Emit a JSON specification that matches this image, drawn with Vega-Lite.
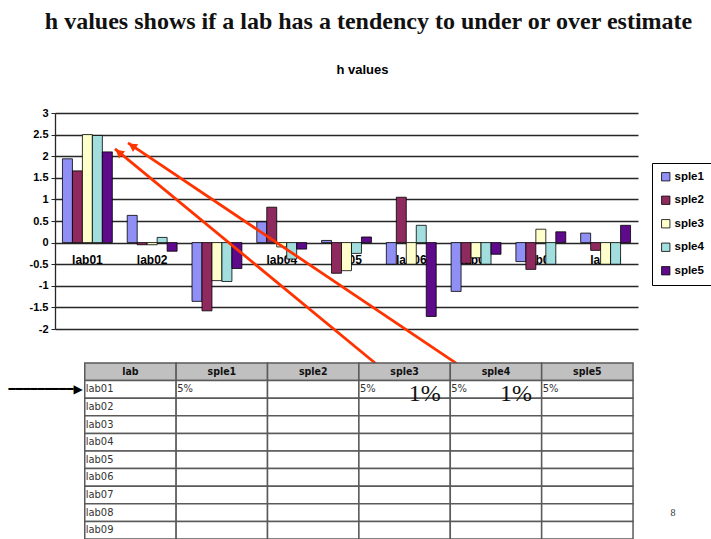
{
  "$schema": "https://vega.github.io/schema/vega-lite/v6.json",
  "background": "white",
  "padding": {"left": 8, "top": 10, "right": 0, "bottom": 0},
  "title": {"text": "h values shows if a lab has a tendency to under or over estimate", "font": "Liberation Serif", "fontSize": 24, "fontWeight": "bold", "color": "#111", "anchor": "middle", "dx": 8, "offset": 30},
  "bounds": "flush",
  "spacing": 34,
  "config": {"view": {"stroke": null}},
  "vconcat": [
    {
      "width": 583,
      "height": 216,
      "title": {"text": "h values", "font": "Liberation Sans", "fontSize": 13, "fontWeight": "bold", "color": "#000", "anchor": "middle", "dx": 16, "offset": 30},
      "resolve": {"scale": {"x": "independent"}},
      "layer": [
        {
          "data": {"values": [
            {"lab": "lab01", "sple": "sple1", "h": 1.94}, {"lab": "lab01", "sple": "sple2", "h": 1.66}, {"lab": "lab01", "sple": "sple3", "h": 2.5}, {"lab": "lab01", "sple": "sple4", "h": 2.48}, {"lab": "lab01", "sple": "sple5", "h": 2.1},
            {"lab": "lab02", "sple": "sple1", "h": 0.63}, {"lab": "lab02", "sple": "sple2", "h": -0.05}, {"lab": "lab02", "sple": "sple3", "h": -0.05}, {"lab": "lab02", "sple": "sple4", "h": 0.12}, {"lab": "lab02", "sple": "sple5", "h": -0.2},
            {"lab": "lab03", "sple": "sple1", "h": -1.36}, {"lab": "lab03", "sple": "sple2", "h": -1.58}, {"lab": "lab03", "sple": "sple3", "h": -0.88}, {"lab": "lab03", "sple": "sple4", "h": -0.9}, {"lab": "lab03", "sple": "sple5", "h": -0.6},
            {"lab": "lab04", "sple": "sple1", "h": 0.48}, {"lab": "lab04", "sple": "sple2", "h": 0.82}, {"lab": "lab04", "sple": "sple3", "h": -0.1}, {"lab": "lab04", "sple": "sple4", "h": -0.38}, {"lab": "lab04", "sple": "sple5", "h": -0.15},
            {"lab": "lab05", "sple": "sple1", "h": 0.05}, {"lab": "lab05", "sple": "sple2", "h": -0.71}, {"lab": "lab05", "sple": "sple3", "h": -0.65}, {"lab": "lab05", "sple": "sple4", "h": -0.25}, {"lab": "lab05", "sple": "sple5", "h": 0.13},
            {"lab": "lab06", "sple": "sple1", "h": -0.5}, {"lab": "lab06", "sple": "sple2", "h": 1.05}, {"lab": "lab06", "sple": "sple3", "h": -0.5}, {"lab": "lab06", "sple": "sple4", "h": 0.4}, {"lab": "lab06", "sple": "sple5", "h": -1.71},
            {"lab": "lab07", "sple": "sple1", "h": -1.13}, {"lab": "lab07", "sple": "sple2", "h": -0.48}, {"lab": "lab07", "sple": "sple3", "h": -0.35}, {"lab": "lab07", "sple": "sple4", "h": -0.5}, {"lab": "lab07", "sple": "sple5", "h": -0.27},
            {"lab": "lab08", "sple": "sple1", "h": -0.44}, {"lab": "lab08", "sple": "sple2", "h": -0.62}, {"lab": "lab08", "sple": "sple3", "h": 0.31}, {"lab": "lab08", "sple": "sple4", "h": -0.5}, {"lab": "lab08", "sple": "sple5", "h": 0.25},
            {"lab": "lab09", "sple": "sple1", "h": 0.22}, {"lab": "lab09", "sple": "sple2", "h": -0.18}, {"lab": "lab09", "sple": "sple3", "h": -0.5}, {"lab": "lab09", "sple": "sple4", "h": -0.5}, {"lab": "lab09", "sple": "sple5", "h": 0.4}
          ]},
          "mark": {"type": "bar", "stroke": "#000", "strokeWidth": 0.8},
          "encoding": {
            "x": {"field": "lab", "type": "nominal", "scale": {"paddingInner": 0.23, "paddingOuter": 0.115},
              "axis": {"title": null, "labelAngle": 0, "offset": -86.4, "ticks": false, "domain": false, "labelFont": "Liberation Sans", "labelFontWeight": "bold", "labelFontSize": 12, "labelColor": "#000", "labelPadding": 12}},
            "xOffset": {"field": "sple", "type": "nominal"},
            "y": {"field": "h", "type": "quantitative", "scale": {"domain": [-2, 3], "nice": false, "zero": false},
              "axis": {"title": null, "values": [-2, -1.5, -1, -0.5, 0, 0.5, 1, 1.5, 2, 2.5, 3], "labelExpr": "datum.value + ''", "labelOverlap": false, "grid": true, "gridColor": "#262626", "gridWidth": 1.3, "domainColor": "#262626", "domainWidth": 1.3, "tickColor": "#262626", "tickSize": 4, "labelFont": "Liberation Sans", "labelFontWeight": "bold", "labelFontSize": 11, "labelColor": "#000", "labelPadding": 3}},
            "color": {"field": "sple", "type": "nominal",
              "scale": {"domain": ["sple1", "sple2", "sple3", "sple4", "sple5"], "range": ["#8f8ff5", "#8e2a5e", "#ffffcc", "#a3dede", "#5e0a8a"]},
              "legend": {"orient": "none", "legendX": 597, "legendY": 50, "title": null, "strokeColor": "#000", "fillColor": "#fff", "padding": 8, "symbolType": "square", "symbolSize": 70, "symbolStrokeColor": "#000", "symbolStrokeWidth": 0.8, "labelFont": "Liberation Sans", "labelFontWeight": "bold", "labelFontSize": 11.5, "labelColor": "#000", "rowPadding": 10.5, "labelOffset": 3}}
          }
        },
        {
          "data": {"values": [
            {"x": 0.926, "y": 2.17, "x2": 5.015, "y2": -2.88},
            {"x": 1.127, "y": 2.31, "x2": 6.42, "y2": -3.02}
          ]},
          "mark": {"type": "rule", "color": "#ff3300", "strokeWidth": 2.8},
          "encoding": {
            "x": {"field": "x", "type": "quantitative", "scale": {"domain": [0, 9], "nice": false, "zero": false}, "axis": null},
            "y": {"field": "y", "type": "quantitative", "scale": {"domain": [-2, 3], "nice": false, "zero": false},
              "axis": {"title": null, "values": [-2, -1.5, -1, -0.5, 0, 0.5, 1, 1.5, 2, 2.5, 3], "labelExpr": "datum.value + ''", "labelOverlap": false, "grid": true, "gridColor": "#262626", "gridWidth": 1.3, "domainColor": "#262626", "domainWidth": 1.3, "tickColor": "#262626", "tickSize": 4, "labelFont": "Liberation Sans", "labelFontWeight": "bold", "labelFontSize": 11, "labelColor": "#000", "labelPadding": 3}},
            "x2": {"field": "x2"},
            "y2": {"field": "y2"}
          }
        },
        {
          "data": {"values": [{"x": 0.986, "y": 2.09}]},
          "mark": {"type": "point", "shape": "triangle-up", "filled": true, "color": "#ff3300", "size": 90, "angle": 309, "opacity": 1},
          "encoding": {
            "x": {"field": "x", "type": "quantitative", "scale": {"domain": [0, 9], "nice": false, "zero": false}, "axis": null},
            "y": {"field": "y", "type": "quantitative", "scale": {"domain": [-2, 3], "nice": false, "zero": false},
              "axis": {"title": null, "values": [-2, -1.5, -1, -0.5, 0, 0.5, 1, 1.5, 2, 2.5, 3], "labelExpr": "datum.value + ''", "labelOverlap": false, "grid": true, "gridColor": "#262626", "gridWidth": 1.3, "domainColor": "#262626", "domainWidth": 1.3, "tickColor": "#262626", "tickSize": 4, "labelFont": "Liberation Sans", "labelFontWeight": "bold", "labelFontSize": 11, "labelColor": "#000", "labelPadding": 3}}
          }
        },
        {
          "data": {"values": [{"x": 1.191, "y": 2.24}]},
          "mark": {"type": "point", "shape": "triangle-up", "filled": true, "color": "#ff3300", "size": 90, "angle": 304, "opacity": 1},
          "encoding": {
            "x": {"field": "x", "type": "quantitative", "scale": {"domain": [0, 9], "nice": false, "zero": false}, "axis": null},
            "y": {"field": "y", "type": "quantitative", "scale": {"domain": [-2, 3], "nice": false, "zero": false},
              "axis": {"title": null, "values": [-2, -1.5, -1, -0.5, 0, 0.5, 1, 1.5, 2, 2.5, 3], "labelExpr": "datum.value + ''", "labelOverlap": false, "grid": true, "gridColor": "#262626", "gridWidth": 1.3, "domainColor": "#262626", "domainWidth": 1.3, "tickColor": "#262626", "tickSize": 4, "labelFont": "Liberation Sans", "labelFontWeight": "bold", "labelFontSize": 11, "labelColor": "#000", "labelPadding": 3}}
          }
        }
      ]
    },
    {
      "width": 583,
      "height": 176,
      "data": {"values": [
        {"lab": "lab", "sple1": "sple1", "sple2": "sple2", "sple3": "sple3", "sple4": "sple4", "sple5": "sple5"},
        {"lab": "lab01", "sple1": "5%", "sple2": "", "sple3": "5%", "sple4": "5%", "sple5": "5%"},
        {"lab": "lab02", "sple1": "", "sple2": "", "sple3": "", "sple4": "", "sple5": ""},
        {"lab": "lab03", "sple1": "", "sple2": "", "sple3": "", "sple4": "", "sple5": ""},
        {"lab": "lab04", "sple1": "", "sple2": "", "sple3": "", "sple4": "", "sple5": ""},
        {"lab": "lab05", "sple1": "", "sple2": "", "sple3": "", "sple4": "", "sple5": ""},
        {"lab": "lab06", "sple1": "", "sple2": "", "sple3": "", "sple4": "", "sple5": ""},
        {"lab": "lab07", "sple1": "", "sple2": "", "sple3": "", "sple4": "", "sple5": ""},
        {"lab": "lab08", "sple1": "", "sple2": "", "sple3": "", "sple4": "", "sple5": ""},
        {"lab": "lab09", "sple1": "", "sple2": "", "sple3": "", "sple4": "", "sple5": ""}
      ]},
      "encoding": {
        "x": {"field": "col", "type": "nominal", "sort": ["lab", "sple1", "sple2", "sple3", "sple4", "sple5"], "scale": {"paddingInner": 0, "paddingOuter": 0.19, "align": 0.857}, "axis": null},
        "y": {"field": "lab", "type": "nominal", "sort": ["lab", "lab01", "lab02", "lab03", "lab04", "lab05", "lab06", "lab07", "lab08", "lab09"], "scale": {"paddingInner": 0, "paddingOuter": 0}, "axis": null}
      },
      "layer": [
        {
          "transform": [{"fold": ["lab", "sple1", "sple2", "sple3", "sple4", "sple5"], "as": ["col", "txt"]}],
          "mark": {"type": "rect", "stroke": "#5a5a5a", "strokeWidth": 1.5},
          "encoding": {"fill": {"condition": {"test": "datum.lab === 'lab'", "value": "#c0c0c0"}, "value": "#ffffff"}}
        },
        {
          "transform": [{"fold": ["lab", "sple1", "sple2", "sple3", "sple4", "sple5"], "as": ["col", "txt"]}, {"filter": "datum.lab === 'lab'"}],
          "mark": {"type": "text", "font": "Liberation Sans Narrow, DejaVu Sans Condensed, Liberation Sans, sans-serif", "fontWeight": "bold", "fontSize": 10.5, "color": "#111"},
          "encoding": {"text": {"field": "txt"}}
        },
        {
          "transform": [{"fold": ["lab", "sple1", "sple2", "sple3", "sple4", "sple5"], "as": ["col", "txt"]}, {"filter": "datum.lab !== 'lab'"}],
          "mark": {"type": "text", "align": "left", "dx": 1, "font": "Liberation Sans Narrow, DejaVu Sans Condensed, Liberation Sans, sans-serif", "fontSize": 11, "color": "#333"},
          "encoding": {
            "x": {"field": "col", "type": "nominal", "sort": ["lab", "sple1", "sple2", "sple3", "sple4", "sple5"], "bandPosition": 0},
            "text": {"field": "txt"}
          }
        },
        {
          "data": {"values": [{"lab": "lab01", "col": "sple3", "note": "1%"}, {"lab": "lab01", "col": "sple4", "note": "1%"}]},
          "mark": {"type": "text", "align": "center", "baseline": "alphabetic", "dy": 3, "font": "Liberation Serif", "fontSize": 24, "color": "#111"},
          "encoding": {
            "x": {"field": "col", "type": "nominal", "sort": ["lab", "sple1", "sple2", "sple3", "sple4", "sple5"], "bandPosition": 0.72},
            "y": {"field": "lab", "type": "nominal", "sort": ["lab", "lab01", "lab02", "lab03", "lab04", "lab05", "lab06", "lab07", "lab08", "lab09"], "bandPosition": 1},
            "text": {"field": "note"}
          }
        },
        {
          "data": {"values": [{"lab": "lab01", "col": "lab"}]},
          "mark": {"type": "text", "align": "right", "baseline": "middle", "dx": -2, "font": "DejaVu Sans", "fontSize": 12, "fontWeight": "bold", "color": "#000", "text": "━━━━━━━━━▶"},
          "encoding": {
            "x": {"field": "col", "type": "nominal", "sort": ["lab", "sple1", "sple2", "sple3", "sple4", "sple5"], "bandPosition": 0}
          }
        },
        {
          "data": {"values": [{"lab": "lab08", "col": "sple5", "num": "8"}]},
          "mark": {"type": "text", "align": "center", "baseline": "middle", "dx": 40, "font": "Liberation Serif", "fontSize": 10, "color": "#333"},
          "encoding": {
            "x": {"field": "col", "type": "nominal", "sort": ["lab", "sple1", "sple2", "sple3", "sple4", "sple5"], "bandPosition": 1},
            "text": {"field": "num"}
          }
        }
      ]
    }
  ]
}
